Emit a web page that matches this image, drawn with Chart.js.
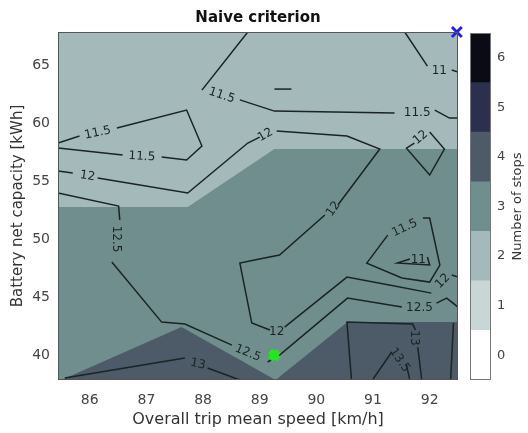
<!DOCTYPE html>
<html>
<head>
<meta charset="utf-8">
<script src="https://cdn.jsdelivr.net/npm/chart.js@4"></script>
<style>
  html, body { margin: 0; padding: 0; background: #fff; }
  #wrap { position: relative; width: 528px; height: 433px; }
  #chartMain { position: absolute; left: 0; top: 0; }
  #chartBar { position: absolute; left: 470px; top: 0; }
</style>
</head>
<body>
<div id="wrap">
  <canvas id="chartMain" width="528" height="433"></canvas>
  <canvas id="chartBar" width="58" height="433"></canvas>
</div>
<script>
const speedRange = [85.44, 92.5];
const capacityRange = [37.85, 67.85];
const speedTicks = [86, 87, 88, 89, 90, 91, 92];
const capacityTicks = [40, 45, 50, 55, 60, 65];

const stopLevels = [0, 1, 2, 3, 4, 5, 6];
const stopColors = ['#ffffff', '#c9d6d6', '#a4b9b9', '#718e8e', '#4d5a68', '#2c2f4d', '#0b0b16'];

// filled areas (number of stops)
const stops3Area = [[85.44, 37.85], [92.5, 37.85], [92.5, 67.85], [85.44, 67.85]];
const stops2Area = [[85.44, 67.85], [92.5, 67.85], [92.5, 57.76], [89.26, 57.76], [87.73, 52.76], [85.44, 52.76]];
const stops4Area = [[85.44, 37.85], [85.5, 37.85], [87.62, 42.41], [89.28, 37.85], [90.55, 42.84], [92.5, 42.84], [92.5, 37.85]];

// contour lines (null = break for a label)
const c11a = [[91.56, 67.85], [91.96, 64.91], null, [92.39, 64.57], [92.5, 64.4]];
const c11b = [[91.65, 48.28], [91.43, 47.93], [92.0, 47.76], [91.96, 48.45]];
const c115a = [[88.79, 67.85], [87.98, 62.84], null, [88.65, 62.0], [89.26, 61.03], [91.38, 60.86], null, [92.09, 61.12], [92.35, 60.43], [92.5, 60.43]];
const c115b = [[85.44, 58.28], [85.82, 58.88], null, [86.48, 59.57], [87.71, 61.12], [87.98, 58.02], [87.71, 56.81], [87.27, 57.07], null, [86.58, 57.24], [85.44, 57.84]];
const c115c = [[91.88, 51.81], [92.0, 51.81], [92.18, 47.76], [92.0, 46.29], [91.51, 46.64], [90.89, 47.93], [91.26, 50.34]];
const c115d = [[89.26, 62.93], [89.56, 62.93]];
const c12a = [[85.44, 55.86], [85.7, 55.69], null, [86.14, 55.26], [87.73, 53.97], [88.79, 58.28], [89.0, 58.79], null,
  [89.3, 59.31], [90.54, 58.88], [91.12, 57.76], [90.38, 52.93], null, [90.15, 52.07], [89.35, 48.62], [88.91, 48.19],
  [88.65, 47.93], [88.86, 42.76], [89.18, 42.16], null, [89.44, 42.41], [90.54, 46.72], [91.38, 45.95], [92.03, 45.34], null,
  [92.39, 46.9], [92.5, 46.72]];
const c12b = [[92.0, 59.22], [92.26, 57.76], [92.0, 55.52], [91.59, 57.84], [91.73, 58.28]];
const c125a = [[85.44, 53.97], [86.51, 52.84], [86.53, 51.64], null, [86.39, 48.02], [87.27, 42.84], [87.68, 42.67], [88.51, 40.86], null,
  [89.14, 39.4], [89.35, 40.0], [90.55, 44.91], [91.51, 44.14], null, [92.12, 44.48], [92.3, 44.91], [92.5, 44.14]];
const c13a = [[85.56, 38.02], [87.68, 39.74], null, [88.08, 38.88], [88.65, 37.85]];
const c13b = [[90.62, 37.85], [90.54, 42.84], [91.7, 42.67], [91.75, 42.16], null, [91.79, 40.69], [91.86, 37.85]];
const c13c = [[92.42, 42.76], [92.37, 37.85]];
const c135 = [[90.99, 37.85], [91.33, 40.26], null, [91.59, 39.14], [91.65, 37.85]];

// contour labels: text, speed, capacity, angle
const contourLabels = [
  ['11', 92.17, 64.48, 0],
  ['11', 91.8, 48.19, 0],
  ['11.5', 88.33, 62.38, 18],
  ['11.5', 91.78, 60.86, 0],
  ['11.5', 86.14, 59.16, -12],
  ['11.5', 86.92, 57.1, 3],
  ['11.5', 91.56, 50.95, -25],
  ['12', 85.96, 55.43, 8],
  ['12', 89.1, 58.97, -30],
  ['12', 90.3, 52.6, -55],
  ['12', 89.3, 41.98, 0],
  ['12', 92.23, 46.38, -45],
  ['12', 91.84, 58.75, -40],
  ['12.5', 86.47, 50.0, 90],
  ['12.5', 88.79, 40.17, 22],
  ['12.5', 91.82, 44.05, 0],
  ['13', 87.91, 39.22, 12],
  ['13', 91.73, 41.47, 90],
  ['13.5', 91.47, 39.57, 55]
];

const blueMark = [[92.48, 67.85]];
const greenMark = [[89.26, 40.0]];

const toPts = arr => arr.map(p => p ? { x: p[0], y: p[1] } : { x: null, y: null });

const area = (pts, color, order) => ({
  data: toPts(pts), borderWidth: 0, backgroundColor: color, fill: 'shape',
  pointRadius: 0, order: order
});
const contour = pts => ({
  data: toPts(pts), borderColor: '#1a2424', borderWidth: 1.5, fill: false,
  pointRadius: 0, spanGaps: false, order: 1
});
const marker = (pts, color, w, r) => ({
  data: toPts(pts), showLine: false, pointStyle: 'crossRot', pointRadius: r,
  pointBorderColor: color, pointBorderWidth: w, clip: false, order: 0
});

const labelPlugin = {
  id: 'contourLabels',
  afterDatasetsDraw(chart) {
    const { ctx, scales: { x, y }, chartArea: a } = chart;
    ctx.save();
    ctx.strokeStyle = '#555';
    ctx.lineWidth = 1;
    ctx.strokeRect(a.left + 0.5, a.top + 0.5, a.width - 1, a.height - 1);
    ctx.font = '12px "DejaVu Sans"';
    ctx.fillStyle = '#1b2424';
    ctx.textAlign = 'center';
    ctx.textBaseline = 'middle';
    contourLabels.forEach(([txt, sx, cy, ang]) => {
      ctx.save();
      ctx.translate(x.getPixelForValue(sx), y.getPixelForValue(cy));
      ctx.rotate(ang * Math.PI / 180);
      ctx.fillText(txt, 0, 0);
      ctx.restore();
    });
    ctx.restore();
  }
};

new Chart(document.getElementById('chartMain'), {
  type: 'line',
  data: {
    datasets: [
      marker(blueMark, '#2222e6', 3, 7),
      marker(greenMark, '#22e622', 6, 6),
      contour(c11a), contour(c11b),
      contour(c115a), contour(c115b), contour(c115c), contour(c115d),
      contour(c12a), contour(c12b),
      contour(c125a),
      contour(c13a), contour(c13b), contour(c13c),
      contour(c135),
      area(stops2Area, stopColors[2], 2),
      area(stops4Area, stopColors[4], 2),
      area(stops3Area, stopColors[3], 3)
    ]
  },
  options: {
    responsive: false,
    animation: false,
    events: [],
    layout: { padding: { left: 0, right: 70, top: 0, bottom: 0 } },
    plugins: {
      legend: { display: false },
      tooltip: { enabled: false },
      title: {
        display: true, text: 'Naive criterion', fullSize: false, color: '#111',
        font: { family: 'DejaVu Sans', size: 15, weight: 'bold' },
        padding: { top: 9, bottom: 5 }
      }
    },
    scales: {
      x: {
        type: 'linear', min: speedRange[0], max: speedRange[1],
        afterBuildTicks: s => { s.ticks = speedTicks.map(v => ({ value: v })); },
        afterFit: s => { s.height = 53; },
        grid: { display: false, drawTicks: false },
        border: { display: false },
        ticks: { padding: 12, color: '#444', font: { family: 'DejaVu Sans', size: 14 } },
        title: {
          display: true, text: 'Overall trip mean speed [km/h]', color: '#333',
          font: { family: 'DejaVu Sans', size: 16 }, padding: { top: 0, bottom: 4 }
        }
      },
      y: {
        type: 'linear', min: capacityRange[0], max: capacityRange[1],
        afterBuildTicks: s => { s.ticks = capacityTicks.map(v => ({ value: v })); },
        afterFit: s => { s.width = 58; },
        grid: { display: false, drawTicks: false },
        border: { display: false },
        ticks: { padding: 8, color: '#444', font: { family: 'DejaVu Sans', size: 14 } },
        title: {
          display: true, text: 'Battery net capacity [kWh]', color: '#333',
          font: { family: 'DejaVu Sans', size: 15 }, padding: { top: 9, bottom: 0 }
        }
      }
    }
  },
  plugins: [labelPlugin]
});

const barFrame = {
  id: 'barFrame',
  afterDraw(chart) {
    const { ctx, chartArea: a } = chart;
    ctx.save();
    ctx.strokeStyle = '#777';
    ctx.lineWidth = 1;
    ctx.strokeRect(a.left + 0.5, a.top + 0.5, a.width - 1, a.height - 1);
    ctx.translate(48, (a.top + a.bottom) / 2);
    ctx.rotate(-Math.PI / 2);
    ctx.font = '13px "DejaVu Sans"';
    ctx.fillStyle = '#333';
    ctx.textAlign = 'center';
    ctx.textBaseline = 'middle';
    ctx.fillText('Number of stops', 0, 0);
    ctx.restore();
  }
};

new Chart(document.getElementById('chartBar'), {
  type: 'bar',
  data: {
    labels: [''],
    datasets: stopLevels.map((s, i) => ({
      data: [[s - 0.5, s + 0.5]],
      backgroundColor: stopColors[i],
      borderWidth: 0,
      grouped: false,
      barPercentage: 1,
      categoryPercentage: 1
    }))
  },
  options: {
    responsive: false,
    animation: false,
    events: [],
    layout: { padding: { top: 33, bottom: 53, left: 0, right: 0 } },
    plugins: { legend: { display: false }, tooltip: { enabled: false } },
    scales: {
      x: { display: false },
      y: {
        position: 'right', min: -0.5, max: 6.5,
        afterBuildTicks: s => { s.ticks = stopLevels.map(v => ({ value: v })); },
        afterFit: s => { s.width = 37; },
        grid: { display: false, drawTicks: false },
        border: { display: false },
        ticks: { padding: 6, color: '#444', font: { family: 'DejaVu Sans', size: 13 } }
      }
    }
  },
  plugins: [barFrame]
});
</script>
</body>
</html>
